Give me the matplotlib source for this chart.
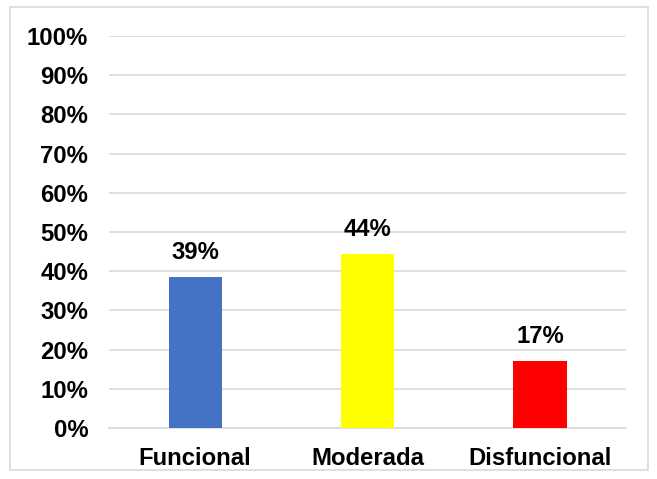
import matplotlib.pyplot as plt
from matplotlib.patches import Rectangle

categorias = ['Funcional', 'Moderada', 'Disfuncional']
valores = [38.5, 44.4, 17.1]
etiquetas = ['39%', '44%', '17%']
colores = ['#4472C4', '#FFFF00', '#FF0000']
ticks_y = list(range(0, 101, 10))

plt.rcParams['font.family'] = ['Liberation Sans', 'DejaVu Sans']

fig = plt.figure(figsize=(6.57, 4.79), dpi=100)
ax = fig.add_axes([0.166, 0.1065, 0.787, 0.8185])

# marco del grafico
fig.patches.append(Rectangle((10 / 657, 9 / 479), 638 / 657, 463 / 479,
                             transform=fig.transFigure, fill=False,
                             edgecolor='#D9D9D9', linewidth=1.2))

x = range(len(categorias))
ax.bar(x, valores, width=0.31, color=colores, zorder=3)

for i, (v, t) in enumerate(zip(valores, etiquetas)):
    ax.annotate(t, (i, v), xytext=(0, 17.5), textcoords='offset points',
                ha='center', va='center', fontsize=17.2, fontweight='bold')

ax.set_xlim(-0.5, len(categorias) - 0.5)
ax.set_ylim(0, 100)
ax.set_yticks(ticks_y)
ax.set_yticklabels(['{}%'.format(t) for t in ticks_y], fontsize=17.2, fontweight='bold')
ax.set_xticks(list(x))
ax.set_xticklabels(categorias, fontsize=17.2, fontweight='bold')
ax.tick_params(axis='y', length=0, pad=15)
ax.tick_params(axis='x', length=0, pad=14)

ax.grid(axis='y', color='#D9D9D9', linewidth=1.2, zorder=0)
for lado in ['top', 'right', 'left']:
    ax.spines[lado].set_visible(False)
ax.spines['bottom'].set_color('#D9D9D9')
ax.spines['bottom'].set_linewidth(1.2)

fig.savefig('out.png', dpi=100)
